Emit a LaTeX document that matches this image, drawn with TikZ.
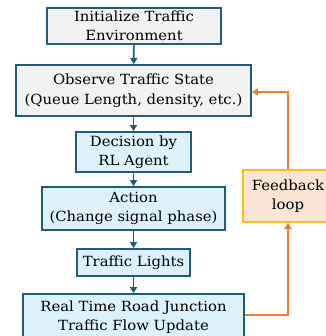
\documentclass[tikz,border=0pt]{standalone}
\usepackage{fontspec}
\setmainfont{DejaVu Serif}[FakeStretch=1.06]
\usetikzlibrary{arrows.meta}
\definecolor{boxline}{HTML}{1F5C7A}
\definecolor{greyfill}{HTML}{F2F2F2}
\definecolor{bluefill}{HTML}{DDF1FB}
\definecolor{fbfill}{HTML}{FBE3D6}
\definecolor{fbline}{HTML}{FFC000}
\definecolor{orangeline}{HTML}{ED7D31}
\begin{document}
\begin{tikzpicture}[x=1pt,y=-1pt,
  base/.style={draw=boxline,line width=1.7pt,rectangle,inner sep=0pt,align=center,
    font=\fontsize{14}{19.5}\selectfont},
  greybox/.style={base,fill=greyfill},
  bluebox/.style={base,fill=bluefill},
  fbbox/.style={rectangle,draw=fbline,fill=fbfill,line width=1.7pt,inner sep=0pt,align=center,
    font=\fontsize{14}{19.5}\selectfont},
  flow/.style={draw=boxline,line width=1.7pt,-{Triangle[width=7pt,length=6pt]}},
  fback/.style={draw=orangeline,line width=1.7pt,-{Triangle[width=7pt,length=6pt]}}]
\useasboundingbox (0,0) rectangle (325,336);
\node[greybox,minimum width=174pt,minimum height=36pt] (b1) at (134,26) {Initialize Traffic\\Environment};
\node[greybox,minimum width=235pt,minimum height=51pt] (b2) at (133.5,90.5) {Observe Traffic State\\(Queue Length, density, etc.)};
\node[bluebox,minimum width=115pt,minimum height=40pt] (b3) at (133.5,152) {Decision by\\RL Agent};
\node[bluebox,minimum width=183pt,minimum height=43pt] (b4) at (133.5,208.5) {Action\\(Change signal phase)};
\node[bluebox,minimum width=113pt,minimum height=27pt] (b5) at (133.5,262.5) {Traffic Lights};
\node[bluebox,minimum width=221pt,minimum height=46pt] (b6) at (133.5,317) {Real Time Road Junction\\Traffic Flow Update};
\node[fbbox,minimum width=90pt,minimum height=52pt] (fb) at (288,196) {Feedback\\loop};
\draw[flow] (b1) -- (b2);
\draw[flow] (b2) -- (b3);
\draw[flow] (b3) -- (b4);
\draw[flow] (b4) -- (b5);
\draw[flow] (b5) -- (b6);
\coordinate (c1) at (288,315);
\coordinate (c2) at (288,92);
\draw[fback] (b6.east |- c1) -- (c1) -- (fb.south);
\draw[fback] (fb.north) -- (c2) -- (b2.east |- c2);
\end{tikzpicture}
\end{document}
